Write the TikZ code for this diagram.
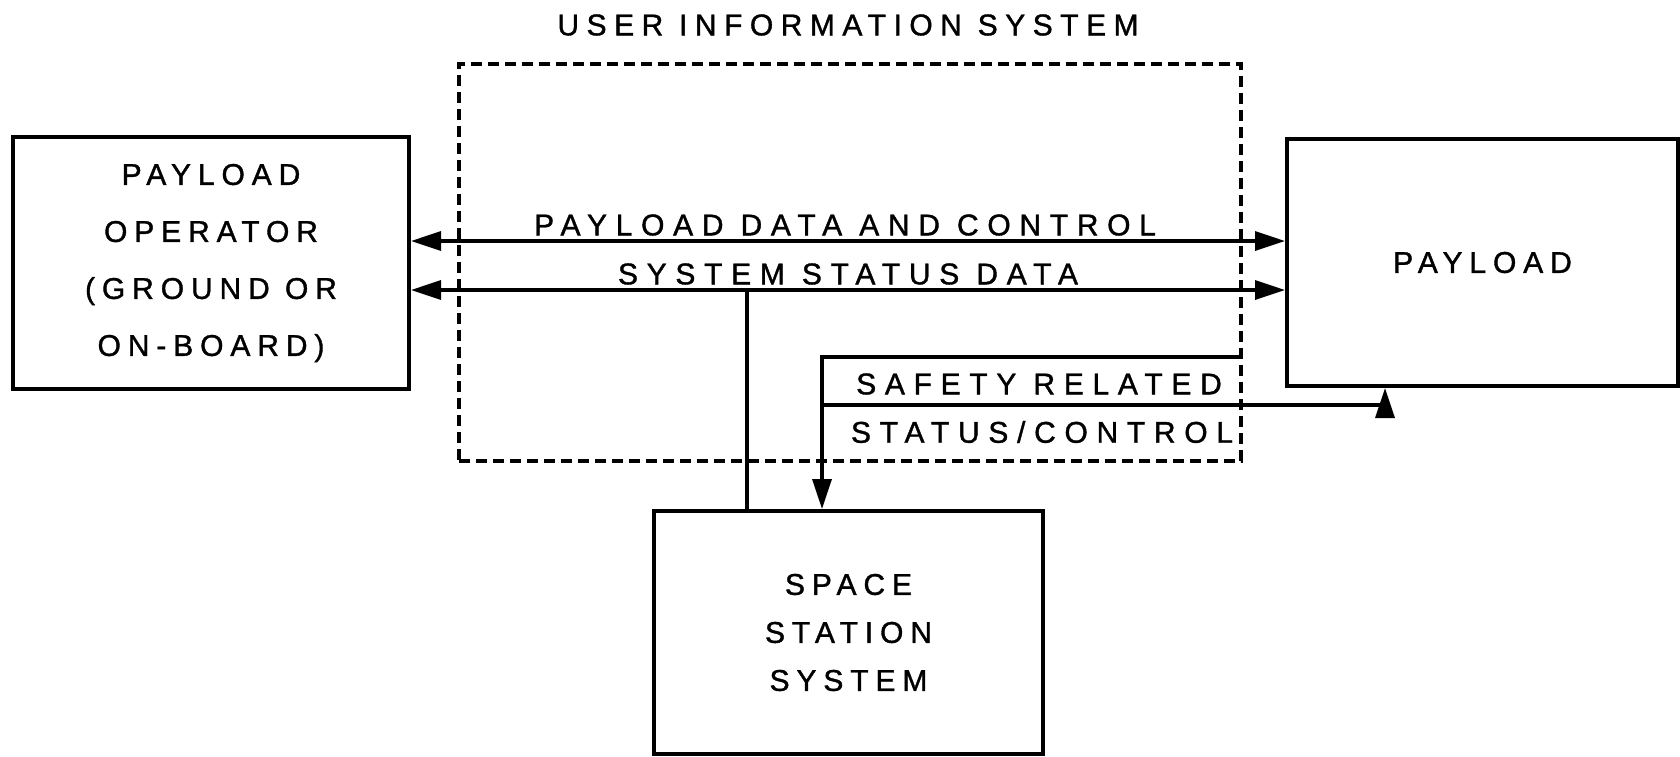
\documentclass[tikz,border=0pt]{standalone}
\usepackage{fontspec}
\setmainfont{Liberation Sans}[LetterSpace=23, FakeBold=1.2]
\newfontfamily\titlefont{Liberation Sans}[LetterSpace=25, FakeBold=1.2]
\newfontfamily\flowfont{Liberation Sans}[LetterSpace=29, FakeBold=1.2]
\usetikzlibrary{arrows.meta}
\begin{document}
\begin{tikzpicture}[x=0.5pt,y=-0.5pt,
  lettering/.style={font=\fontsize{15}{28}\selectfont, inner sep=0pt},
  block/.style={draw, line width=2pt, inner sep=0pt, align=center, lettering},
  system/.style={draw, dashed, dash pattern=on 5.5pt off 3pt, line width=1.6pt, inner sep=0pt},
  flow/.style={line width=1.7pt},
  head/.style={-{Triangle[length=15pt,width=9.5pt]}},
  both/.style={{Triangle[length=15pt,width=9.5pt]}-{Triangle[length=15pt,width=9.5pt]}},
  label/.style={font=\flowfont\fontsize{15}{28}\selectfont, inner sep=0pt, anchor=center}]
\useasboundingbox (0,0) rectangle (1680,756);

% blocks
\node[block, minimum width=198pt, minimum height=126pt,
      font=\fontsize{15}{28.5}\selectfont] (operator) at (211,263)
  {PAYLOAD\\OPERATOR\\(GROUND OR\\ON-BOARD)};
\node[block, minimum width=195.5pt, minimum height=123.5pt] (payload) at (1482.5,262.5) {PAYLOAD};
\node[block, minimum width=194.5pt, minimum height=121.5pt,
      font=\fontsize{15}{24}\selectfont] (station) at (848.5,632.5)
  {SPACE\\STATION\\SYSTEM};
\node[system, minimum width=391pt, minimum height=198.5pt] (uis) at (850,262.5) {};
\node[inner sep=0pt, font=\titlefont\fontsize{15}{28}\selectfont] (uistitle) at (848,25)
  {USER INFORMATION SYSTEM};

% row positions of the connectors
\coordinate (rowA) at (0,241);
\coordinate (rowB) at (0,290);
\coordinate (tap) at (747,290);
\coordinate (sj) at (822,357);
\coordinate (sk) at (822,405);
\coordinate (sp) at (1385,405);

% data and control links
\draw[flow, both] (operator.east |- rowA) -- (payload.west |- rowA);
\draw[flow, both] (operator.east |- rowB) -- (payload.west |- rowB);
\draw[flow] (tap) -- (station.north -| tap);

% safety related status/control
\draw[flow, head] (uis.east |- sj) -- (sj) -- (station.north -| sj);
\draw[flow, head] (sk) -- (sp) -- (payload.south -| sp);

% connector labels
\node[label] (lA) at (845,225) {PAYLOAD DATA AND CONTROL};
\node[label] (lB) at (848,274) {SYSTEM STATUS DATA};
\node[label] (lC) at (1039,384) {SAFETY RELATED};
\node[label] (lD) at (1042,432) {STATUS/CONTROL};
\end{tikzpicture}
\end{document}
